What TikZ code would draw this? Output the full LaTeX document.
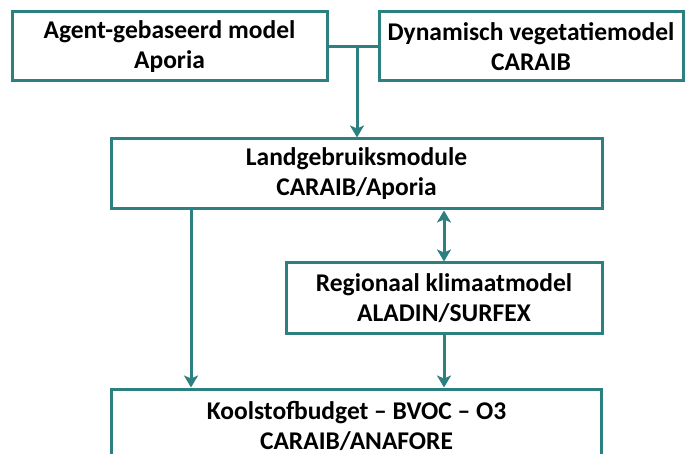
\documentclass[tikz,border=0pt]{standalone}
\usepackage{fontspec}
\setmainfont{Carlito}
\usetikzlibrary{arrows.meta}
\definecolor{teal1}{RGB}{44,128,128}
\begin{document}
\begin{tikzpicture}[x=1pt,y=-1pt,
  box/.style={draw=teal1,line width=3pt,rectangle,align=center,
    font=\fontsize{25.5}{30}\selectfont\bfseries,inner sep=0pt},
  conn/.style={draw=teal1,line width=3pt},
  arr/.style={conn,-{Stealth[length=12pt,width=14pt,inset=3pt]}},
  darr/.style={conn,{Stealth[length=12pt,width=14pt,inset=3pt]}-{Stealth[length=12pt,width=14pt,inset=3pt]}}]
\useasboundingbox (0,0) rectangle (685,454);
\clip (0,0) rectangle (685,454);
\node[box,minimum width=315pt,minimum height=69pt] (tl) at (169.5,46.5) {Agent-gebaseerd model\\Aporia};
\node[box,minimum width=304pt,minimum height=69pt] (tr) at (531,46.5) {Dynamisch vegetatiemodel\\CARAIB};
\node[box,minimum width=491pt,minimum height=70pt] (land) at (356.5,174) {Landgebruiksmodule\\CARAIB/Aporia};
\node[box,minimum width=316pt,minimum height=70pt] (reg) at (444,298) {Regionaal klimaatmodel\\ALADIN/SURFEX};
\node[box,minimum width=490pt,minimum height=74pt] (kool) at (356.5,426) {Koolstofbudget -- BVOC -- O3\\CARAIB/ANAFORE};
\coordinate (j) at (357,46.5);
\coordinate (l) at (191,209);
\draw[conn] (tl.east) -- (tr.west);
\draw[arr] (j) -- (j |- land.north);
\draw[darr] (reg.north) -- (reg.north |- land.south);
\draw[arr] (l |- land.south) -- (l |- kool.north);
\draw[arr] (reg.south) -- (reg.south |- kool.north);
\end{tikzpicture}
\end{document}
